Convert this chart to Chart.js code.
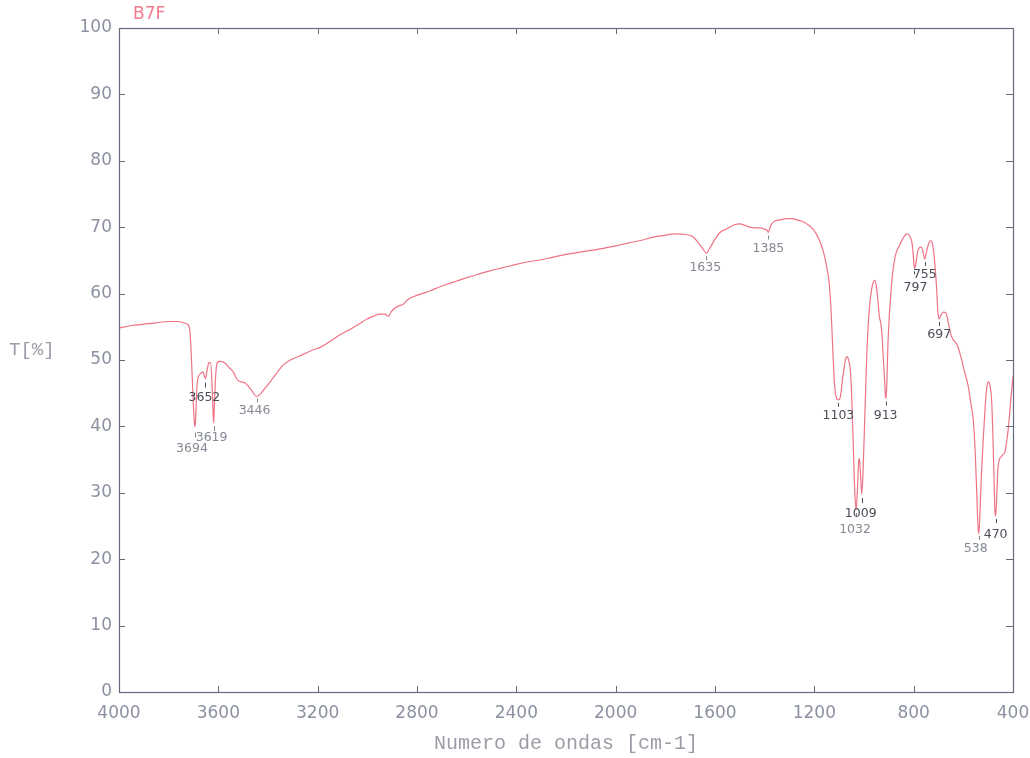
<!DOCTYPE html>
<html>
<head>
<meta charset="utf-8">
<script src="https://cdn.jsdelivr.net/npm/chart.js@4.4.1/dist/chart.umd.min.js"></script>
<style>
  html, body { margin: 0; padding: 0; background: #ffffff; }
  #wrap { width: 1030px; height: 758px; position: relative; }
</style>
</head>
<body>
<div id="wrap"><canvas id="c" width="1030" height="758"></canvas></div>
<script>
// ---- data ----
const sampleName = 'B7F';
const xTitle = 'Numero de ondas [cm-1]';
const yTitle = 'T[%]';
const xTicks = [4000, 3600, 3200, 2800, 2400, 2000, 1600, 1200, 800, 400];
const yTicks = [0, 10, 20, 30, 40, 50, 60, 70, 80, 90, 100];

const wavenumbers = [
  4000, 3950, 3900, 3850, 3800, 3760, 3740, 3725, 3715, 3708, 3702, 3697, 3694, 3691, 3686, 3680,
  3670, 3662, 3656, 3652, 3646, 3638, 3632, 3626, 3622, 3619, 3616, 3611, 3605, 3595, 3575, 3555,
  3540, 3525, 3510, 3495, 3480, 3465, 3446, 3430, 3415, 3395, 3370, 3340, 3310, 3280, 3250, 3220,
  3190, 3150, 3110, 3070, 3030, 3000, 2975, 2950, 2930, 2915, 2905, 2890, 2870, 2855, 2840, 2810,
  2780, 2748, 2710, 2680, 2640, 2600, 2546, 2500, 2454, 2400, 2350, 2300, 2250, 2200, 2150, 2100,
  2050, 2000, 1950, 1900, 1850, 1800, 1760, 1720, 1690, 1670, 1650, 1635, 1620, 1600, 1580, 1550,
  1520, 1500, 1480, 1460, 1440, 1420, 1400, 1390, 1385, 1378, 1365, 1340, 1310, 1290, 1270, 1250,
  1230, 1205, 1185, 1165, 1150, 1140, 1132, 1125, 1118, 1110, 1103, 1095, 1085, 1075, 1068, 1062,
  1056, 1050, 1044, 1038, 1032, 1027, 1022, 1019, 1015, 1009, 1004, 998, 993, 988, 980, 970,
  962, 956, 950, 944, 938, 932, 927, 922, 917, 913, 909, 903, 890, 875, 855, 840,
  827, 815, 806, 800, 797, 792, 784, 772, 764, 758, 755, 750, 740, 730, 724, 716,
  708, 702, 697, 690, 680, 670, 660, 650, 640, 625, 610, 595, 580, 570, 560, 552,
  546, 541, 538, 534, 528, 520, 512, 505, 498, 492, 487, 482, 477, 473, 470, 466,
  461, 455, 448, 440, 432, 425, 418, 410, 400
];
const transmittance = [
  54.8, 55.2, 55.4, 55.6, 55.8, 55.8, 55.6, 55.4, 54.5, 50.0, 44.5, 40.8, 40.0, 41.5, 46.0, 47.5,
  48.0, 48.2, 47.6, 47.2, 48.3, 49.6, 49.6, 47.0, 43.0, 40.5, 43.0, 47.5, 49.5, 49.8, 49.6, 48.8,
  48.2, 47.1, 46.7, 46.6, 46.1, 45.4, 44.5, 44.9, 45.6, 46.5, 47.8, 49.2, 50.0, 50.5, 51.0, 51.5,
  51.9, 52.8, 53.8, 54.6, 55.5, 56.2, 56.6, 56.9, 56.9, 56.6, 57.2, 57.8, 58.2, 58.4, 59.0, 59.6,
  60.0, 60.4, 61.0, 61.4, 61.9, 62.4, 63.0, 63.5, 63.9, 64.4, 64.8, 65.1, 65.5, 65.9, 66.2, 66.5,
  66.8, 67.2, 67.6, 68.0, 68.5, 68.8, 69.0, 68.9, 68.6, 67.8, 66.8, 66.1, 66.9, 68.2, 69.2, 69.8,
  70.4, 70.5, 70.3, 70.0, 69.9, 69.9, 69.7, 69.5, 69.2, 70.0, 70.8, 71.1, 71.3, 71.3, 71.1, 70.9,
  70.5, 69.7, 68.5, 66.5, 64.0, 61.5, 57.0, 51.0, 46.0, 44.2, 44.0, 44.5, 47.5, 50.0, 50.5, 50.0,
  48.8, 45.0, 38.0, 31.0, 27.4, 30.0, 34.5, 35.2, 33.5, 29.8, 33.0, 40.0, 46.0, 51.5, 57.0, 60.5,
  61.8, 62.0, 61.0, 59.0, 56.5, 55.5, 53.5, 50.0, 47.0, 44.2, 45.5, 53.0, 61.0, 65.5, 67.4, 68.5,
  69.0, 68.6, 67.5, 65.0, 63.8, 64.3, 66.3, 67.0, 66.6, 65.5, 65.2, 66.0, 67.5, 68.0, 67.4, 65.0,
  61.0, 57.0, 56.2, 56.8, 57.2, 57.1, 55.5, 53.8, 53.0, 52.3, 50.5, 48.2, 46.0, 43.5, 41.0, 36.0,
  30.0, 25.0, 23.8, 26.0, 32.0, 38.0, 43.0, 46.0, 46.7, 46.0, 44.5, 40.0, 33.0, 27.5, 26.5, 29.0,
  33.5, 35.0, 35.4, 35.8, 36.2, 37.8, 40.0, 43.5, 47.5
];

// peak annotations: label text, wavenumber, transmittance at the dip
const peakLabels = ['3694', '3652', '3619', '3446', '1635', '1385', '1103', '1032', '1009', '913', '797', '755', '697', '538', '470'];
const peakWn     = [3694, 3652, 3619, 3446, 1635, 1385, 1103, 1032, 1009, 913, 797, 755, 697, 538, 470];
const peakT      = [40.0, 47.2, 40.5, 44.5, 66.1, 69.2, 44.0, 27.4, 29.8, 44.2, 63.8, 65.2, 56.2, 23.8, 26.5];

// ---- layout / style (not data) ----
const peakStyle = {
  '3694': {dx: -3, dy: 22, tick: [6, 11], dark: false},
  '3652': {dx: -1, dy: 19, tick: [4, 9], dark: true},
  '3619': {dx: -2, dy: 15, tick: [3, 8], dark: false},
  '3446': {dx: -2, dy: 14, tick: [2, 6], dark: false},
  '1635': {dx: -1, dy: 15, tick: [3, 7], dark: false},
  '1385': {dx: 0, dy: 16, tick: [3, 7], dark: false},
  '1103': {dx: 0, dy: 16, tick: [3, 7], dark: true},
  '1032': {dx: -1, dy: 20, tick: [3, 7], dark: false},
  '1009': {dx: -1, dy: 20, tick: [4, 9], dark: true},
  '913':  {dx: 0, dy: 17, tick: [3, 7], dark: true},
  '797':  {dx: 1, dy: 19, tick: [3, 6], dark: true},
  '755':  {dx: 0, dy: 16, tick: [3, 7], dark: true},
  '697':  {dx: 0, dy: 16, tick: [3, 7], dark: true},
  '538':  {dx: -3, dy: 15, tick: [2, 6], dark: false},
  '470':  {dx: 0, dy: 19, tick: [3, 7], dark: true}
};

const points = wavenumbers.map((w, i) => ({x: w, y: transmittance[i]}));

const decor = {
  id: 'decor',
  afterDraw(chart) {
    const ctx = chart.ctx;
    const xs = chart.scales.x, ys = chart.scales.y;
    const a = chart.chartArea;
    ctx.save();
    // frame
    ctx.strokeStyle = '#646a7c';
    ctx.lineWidth = 1.2;
    ctx.strokeRect(a.left + 0.5, a.top + 0.5, a.right - a.left, a.bottom - a.top);
    // inner ticks
    ctx.lineWidth = 1;
    ctx.beginPath();
    xTicks.forEach(v => {
      const px = Math.round(xs.getPixelForValue(v)) + 0.5;
      ctx.moveTo(px, a.bottom); ctx.lineTo(px, a.bottom - 6);
      ctx.moveTo(px, a.top); ctx.lineTo(px, a.top + 6);
    });
    yTicks.forEach(v => {
      const py = Math.round(ys.getPixelForValue(v)) + 0.5;
      ctx.moveTo(a.left, py); ctx.lineTo(a.left + 6, py);
      ctx.moveTo(a.right, py); ctx.lineTo(a.right - 7, py);
    });
    ctx.stroke();
    // sample name
    ctx.fillStyle = '#f07b8c';
    ctx.font = '17px "DejaVu Sans"';
    ctx.textAlign = 'left';
    ctx.textBaseline = 'middle';
    ctx.fillText(sampleName, 133, 15);
    // y title
    ctx.fillStyle = '#9a9ca6';
    ctx.font = '19px "Liberation Mono"';
    ctx.fillText(yTitle, 9, 350);
    // peak labels
    ctx.font = '12.5px "DejaVu Sans"';
    ctx.textAlign = 'center';
    peakLabels.forEach((lab, i) => {
      const st = peakStyle[lab];
      const px = xs.getPixelForValue(peakWn[i]);
      const py = ys.getPixelForValue(peakT[i]);
      ctx.strokeStyle = st.dark ? '#4a4e58' : '#80848e';
      ctx.lineWidth = 1;
      ctx.beginPath();
      ctx.moveTo(Math.round(px) + 0.5, py + st.tick[0]);
      ctx.lineTo(Math.round(px) + 0.5, py + st.tick[1]);
      ctx.stroke();
      ctx.fillStyle = st.dark ? '#4a4e58' : '#868a94';
      ctx.fillText(lab, px + st.dx, py + st.dy);
    });
    ctx.restore();
  }
};

new Chart(document.getElementById('c'), {
  type: 'line',
  data: {
    datasets: [{
      data: points,
      borderColor: 'rgba(236,100,120,0.9)',
      borderWidth: 1.2,
      pointRadius: 0,
      fill: false,
      tension: 0,
      cubicInterpolationMode: 'monotone'
    }]
  },
  options: {
    responsive: false,
    animation: false,
    layout: { padding: { top: 28, right: 17, left: 0, bottom: 0 } },
    plugins: { legend: { display: false }, tooltip: { enabled: false } },
    scales: {
      x: {
        type: 'linear',
        reverse: true,
        min: 400,
        max: 4000,
        afterFit(s) { s.height = 66; s.paddingLeft = 0; s.paddingRight = 0; },
        afterBuildTicks(s) { s.ticks = xTicks.map(v => ({value: v})); },
        grid: { display: false, drawTicks: false },
        border: { display: false },
        ticks: {
          autoSkip: false, maxRotation: 0, padding: 11,
          color: '#8c91a2',
          font: { family: 'DejaVu Sans', size: 17 },
          callback: v => String(v)
        },
        title: {
          display: true, text: xTitle, color: '#9a9ca6',
          font: { family: 'Liberation Mono', size: 20 },
          padding: { top: 0, bottom: 2 }
        }
      },
      y: {
        min: 0,
        max: 100,
        afterFit(s) { s.width = 119; s.paddingTop = 0; s.paddingBottom = 0; },
        afterBuildTicks(s) { s.ticks = yTicks.map(v => ({value: v})); },
        grid: { display: false, drawTicks: false },
        border: { display: false },
        ticks: {
          autoSkip: false, padding: 7,
          color: '#8c91a2',
          font: { family: 'DejaVu Sans', size: 17 },
          callback: v => String(v)
        }
      }
    }
  },
  plugins: [decor]
});
</script>
</body>
</html>
